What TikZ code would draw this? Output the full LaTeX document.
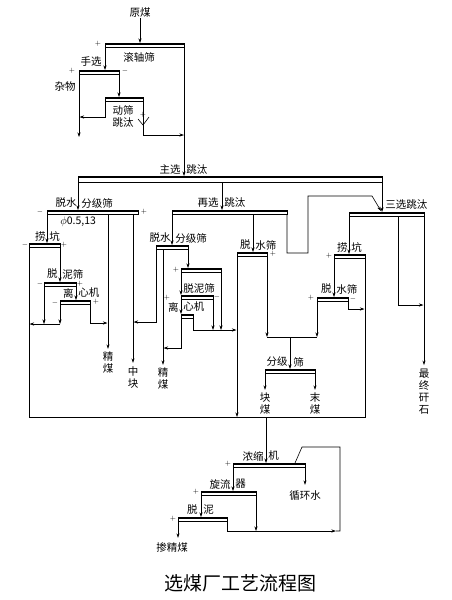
\documentclass[tikz,border=0pt]{standalone}
\usepackage{fontspec}
\setmainfont{Noto Sans CJK SC}
\usetikzlibrary{arrows.meta}

\tikzset{
  machine/.style={draw, line width=0.5pt, inner sep=0pt, outer sep=0pt, anchor=north west,
    minimum height=4pt, minimum width=#1,
    path picture={\fill (path picture bounding box.north west) rectangle ([yshift=-1.8pt]path picture bounding box.north east);}},
  flow/.style={-{Stealth[length=4.5pt,width=3pt]}},
  lbl/.style={font=\fontsize{10.5}{12}\selectfont, inner sep=0pt},
  vlbl/.style={lbl, align=center},
  sgn/.style={font=\scriptsize, inner sep=0pt}
}

\begin{document}
\begin{tikzpicture}[x=1pt, y=-1pt, line width=0.6pt]
\useasboundingbox (0,0) rectangle (452,600);

% raw coal, roller screen, picking, jig
\node[lbl] (yuanmei) at (140,13) {原煤};
\node[machine=79pt] (gunzhou) at (105,43) {};
\node[lbl] (gunzhouT) at (139,57) {滚轴筛};
\node[machine=40pt] (shouxuan) at (79,70) {};
\node[lbl, anchor=east] (shouxuanT) at (102,62) {手选};
\node[lbl] (zawu) at (65,87) {杂物};
\node[machine=38pt] (dongshai) at (105,97) {};
\node[vlbl] (dongshaiT) at (123,116) {动筛\\跳汰};
\coordinate (zawuEnd) at (79,137);
\coordinate (dsTurn) at (143,135);

\draw[flow] (yuanmei) -- (yuanmei |- gunzhou.north);
\draw[flow] (gunzhou.south west) -- (gunzhou.south west |- shouxuan.north);
\draw[flow] (shouxuan.south west) -- (zawuEnd);
\draw[flow] (shouxuan.south east) -- (shouxuan.south east |- dongshai.north);
\draw[flow] (dongshai.south west) |- ([xshift=0.5pt]zawuEnd |- 0,117);
\draw (dongshai.south east) -- (dsTurn);
\draw (138,119) -- (143,125) -- (149,117);
\draw[flow] (dsTurn) -- (dsTurn -| gunzhou.east);

% main jig
\node[machine=304pt, minimum height=6pt, line width=0.8pt] (zhuxuan) at (78,176) {};
\node[lbl, anchor=east] (zhuxuanT) at (181,170) {主选};
\node[lbl, anchor=west] (zhuxuanT2) at (186,170) {跳汰};
\draw[flow] (gunzhou.south east) -- (gunzhou.south east |- zhuxuan.north);

% clean coal branch
\node[machine=91pt] (fenji1) at (47,210) {};
\node[lbl, anchor=east] (fenji1T) at (77,203) {脱水};
\node[lbl, anchor=west] (fenji1T2) at (81,203) {分级筛};
\node[lbl, anchor=west] (kong) at (60,222) {$\phi$0.5,13};
\node[machine=31pt] (laokeng1) at (29,243) {};
\node[lbl, anchor=east] (laokeng1T) at (46,236) {捞};
\node[lbl, anchor=west] (laokeng1T2) at (49,236) {坑};
\node[machine=32pt] (tuoni1) at (44,282) {};
\node[lbl, anchor=east] (tuoni1T) at (58,274) {脱};
\node[lbl, anchor=west] (tuoni1T2) at (62,274) {泥筛};
\node[machine=30pt] (lixin1) at (60,300) {};
\node[lbl, anchor=east] (lixin1T) at (74,293) {离};
\node[lbl, anchor=west] (lixin1T2) at (78,293) {心机};
\node[vlbl] (jingmei1) at (108,363) {精\\煤};
\node[vlbl] (zhongkuai) at (133,378) {中\\块};

\draw[flow] (zhuxuan.south west) -- (zhuxuan.south west |- fenji1.north);
\draw[flow] (fenji1.south west) -- (fenji1.south west |- laokeng1.north);
\draw[flow] ([xshift=61pt]fenji1.south west) -- ([yshift=3pt]jingmei1.north);
\draw[flow] ([xshift=86pt]fenji1.south west) -- ([yshift=4pt]zhongkuai.north);
\draw[flow] (laokeng1.south east) -- (laokeng1.south east |- tuoni1.north);
\draw[flow] (tuoni1.south west) -- (tuoni1.south west |- 0,324);
\draw[flow] (tuoni1.south east) -- (tuoni1.south east |- lixin1.north);
\draw[flow] (lixin1.south west) -- (lixin1.south west |- 0,324);
\draw[flow] (lixin1.south east) |- ([xshift=-0.5pt]jingmei1.north |- 0,323);
\draw[flow] (lixin1.south west |- 0,324) -- ([xshift=0.5pt]laokeng1.south west |- 0,324);

% rewash jig
\node[machine=115pt] (zaixuan) at (172,210) {};
\node[lbl, anchor=east] (zaixuanT) at (219,203) {再选};
\node[lbl, anchor=west] (zaixuanT2) at (224,203) {跳汰};
\draw[flow] ([xshift=144pt]zhuxuan.south west) -- ([xshift=50pt]zaixuan.north west);

\node[machine=32pt] (fenji2) at (156,245) {};
\node[lbl, anchor=east] (fenji2T) at (171,238) {脱水};
\node[lbl, anchor=west] (fenji2T2) at (175,238) {分级筛};
\node[machine=40pt] (jiaoban) at (181,268) {};
\node[machine=32pt] (tuoni2) at (181,295) {};
\node[lbl, anchor=west] (tuoni2T) at (183,288) {脱泥筛};
\node[machine=12pt] (lixin2) at (181,314) {};
\node[lbl, anchor=east] (lixin2T) at (179,307) {离};
\node[lbl, anchor=west] (lixin2T2) at (183,307) {心机};
\node[vlbl] (jingmei2) at (163,379) {精\\煤};

\draw[flow] (zaixuan.south west) -- (zaixuan.south west |- fenji2.north);
\draw[flow] (fenji2.south west) |- ([xshift=0.5pt]zhongkuai.north |- 0,322);
\draw[flow] ([xshift=7pt]fenji2.south west) -- ([yshift=3pt]jingmei2.north);
\draw[flow] (fenji2.south east) -- (fenji2.south east |- jiaoban.north);
\draw[flow] (jiaoban.south west) -- (jiaoban.south west |- tuoni2.north);
\draw[flow] (jiaoban.south east) -- (jiaoban.south east |- 0,330);
\draw[flow] (tuoni2.south west) -- (tuoni2.south west |- lixin2.north);
\draw[flow] (tuoni2.south east) -- (tuoni2.south east |- 0,330);
\draw[flow] (lixin2.south west) |- ([xshift=0.5pt]jingmei2.north |- 0,348);
\draw[flow] (lixin2.south east) |- (236.5,330);

\node[machine=30pt] (tuoshui1) at (237,252) {};
\node[lbl, anchor=east] (tuoshui1T) at (251,245) {脱};
\node[lbl, anchor=west] (tuoshui1T2) at (255,245) {水筛};
\node[machine=50pt] (fenji3) at (265,369) {};
\node[lbl, anchor=east] (fenji3T) at (288,362) {分级};
\node[lbl, anchor=west] (fenji3T2) at (293,362) {筛};
\node[vlbl] (kuaimei) at (265,404) {块\\煤};
\node[vlbl] (momei) at (315,404) {末\\煤};
\coordinate (fenjiIn) at (290,337);

\draw[flow] ([xshift=81pt]zaixuan.south west) -- ([xshift=16pt]tuoshui1.north west);
\draw[flow] (tuoshui1.south west) -- (tuoshui1.south west |- 0,417);
\draw[flow] (tuoshui1.south east) -- (tuoshui1.south east |- fenjiIn);
\draw (tuoshui1.south east |- fenjiIn) -- (317,337);
\draw[flow] (fenjiIn) -- (fenjiIn |- fenji3.north);
\draw[flow] (fenji3.south west) -- ([yshift=3pt]kuaimei.north);
\draw[flow] (fenji3.south east) -- ([yshift=3pt]momei.north);
\draw[flow] (zaixuan.south east) -- ++(0,39) -- ++(21,0) -- ++(0,-57) -- ++(64,0)
  -- ([xshift=-1pt]zhuxuan.south east |- 0,211);

% third jig
\node[machine=75pt] (sanxuan) at (349,212) {};
\node[lbl, anchor=west] (sanxuanT) at (385,205) {三选跳汰};
\node[machine=31pt] (laokeng2) at (334,254) {};
\node[lbl, anchor=east] (laokeng2T) at (348,247) {捞};
\node[lbl, anchor=west] (laokeng2T2) at (351,247) {坑};
\node[machine=31pt] (tuoshui2) at (317,297) {};
\node[lbl, anchor=east] (tuoshui2T) at (332,289) {脱};
\node[lbl, anchor=west] (tuoshui2T2) at (336,289) {水筛};
\node[vlbl] (ganshi) at (424,392) {最\\终\\矸\\石};

\draw[flow] (zhuxuan.south east) -- (zhuxuan.south east |- sanxuan.north);
\draw[flow] (sanxuan.south west) -- (sanxuan.south west |- laokeng2.north);
\draw[flow] ([xshift=49pt]sanxuan.south west) |- ([xshift=-0.5pt]sanxuan.south east |- 0,305);
\draw[flow] (sanxuan.south east) -- ([yshift=4pt]ganshi.north);
\draw[flow] (laokeng2.south west) -- (laokeng2.south west |- tuoshui2.north);
\draw[flow] (tuoshui2.south west) -- (tuoshui2.south west |- fenjiIn);
\draw[flow] (tuoshui2.south east) |- ([xshift=-0.5pt]laokeng2.south east |- 0,309);

% slime water
\coordinate (shuiM) at (266,417);
\draw (laokeng1.south west) |- (laokeng2.south east |- shuiM) -- (laokeng2.south east);
\node[machine=72pt] (nongsuo) at (233,463) {};
\node[lbl, anchor=east] (nongsuoT) at (264,456) {浓缩};
\node[lbl, anchor=west] (nongsuoT2) at (268,456) {机};
\node[lbl] (xunhuan) at (305,496) {循环水};
\node[machine=55pt] (xuanliu) at (201,491) {};
\node[lbl, anchor=east] (xuanliuT) at (231,484) {旋流};
\node[lbl, anchor=west] (xuanliuT2) at (235,484) {器};
\node[machine=49pt] (tuoni3) at (178,517) {};
\node[lbl, anchor=east] (tuoni3T) at (198,510) {脱};
\node[lbl, anchor=west] (tuoni3T2) at (203,510) {泥};
\node[lbl] (chanjing) at (172,547) {掺精煤};
\coordinate (huiA) at (336,531);
\coordinate (huiB) at (302,447);

\draw[flow] (shuiM) -- (shuiM |- nongsuo.north);
\draw[flow] (nongsuo.south east) -- ([yshift=6pt]xunhuan.north -| nongsuo.south east);
\draw[flow] (nongsuo.south west) -- (nongsuo.south west |- xuanliu.north);
\draw[flow] (xuanliu.south east) -- (xuanliu.south east |- huiA);
\draw[flow] (xuanliu.south west) -- (xuanliu.south west |- tuoni3.north);
\draw[flow] (tuoni3.south west) -- ([yshift=4pt]tuoni3.south west |- chanjing.north);
\draw[flow] (tuoni3.south east) |- (huiA);
\draw (huiA) -- ++(4,0) |- (huiB) -- ([xshift=-10pt]nongsuo.north east);

% + / - products
\foreach [count=\i] \x/\y/\s in {98/44/+, 72/71/+, 125/71/-, 143/115/+, 40/212/-, 144/212/+,
    25/245/-, 64/245/+, 40/284/-, 80/284/+, 55/303/-, 96/302/+, 176/270/+, 217/297/-,
    167/298/+, 273/254/+, 329/256/+, 311/298/+, 353/299/-, 228/464/+, 196/492/+, 173/519/+}
  \node[sgn] (sign\i) at (\x,\y) {$\s$};

\node[font=\fontsize{19}{20}\selectfont, inner sep=0pt] (title) at (240,583) {选煤厂工艺流程图};
\end{tikzpicture}
\end{document}
